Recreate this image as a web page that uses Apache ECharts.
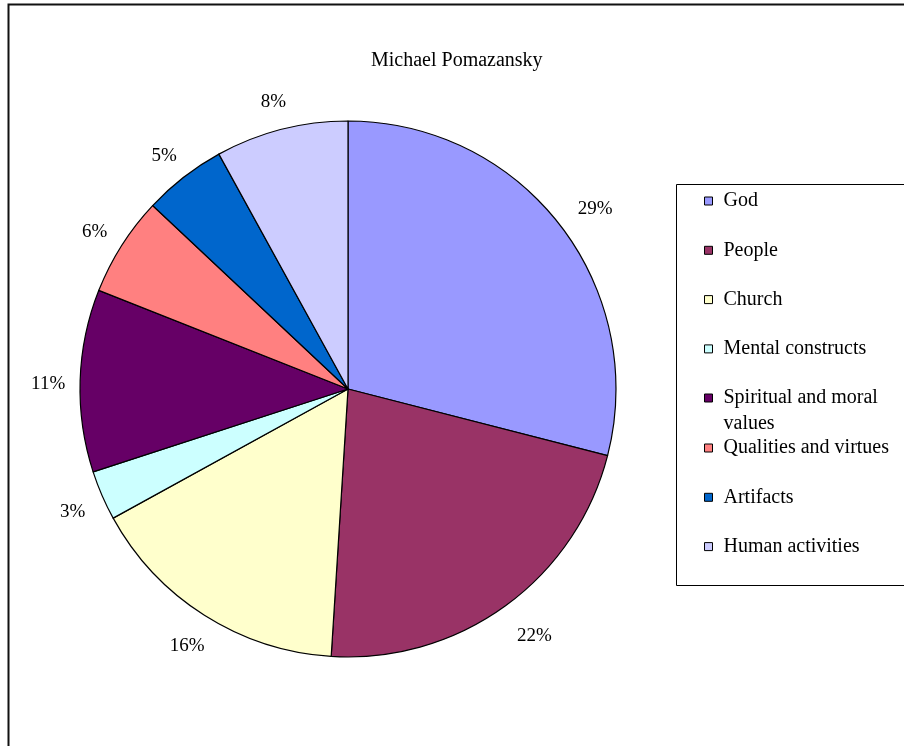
<!DOCTYPE html>
<html>
<head>
<meta charset="utf-8">
<title>Michael Pomazansky</title>
<script src="https://cdn.jsdelivr.net/npm/echarts@6/dist/echarts.min.js"></script>
<style>
  html, body { margin: 0; padding: 0; background: #fff; }
  #chart { width: 904px; height: 746px; }
</style>
</head>
<body>
<div id="chart"></div>
<script>
// Share of each theme (percent)
const categories = [
  'God', 'People', 'Church', 'Mental constructs',
  'Spiritual and moral values', 'Qualities and virtues', 'Artifacts', 'Human activities'
];
const shares = [29, 22, 16, 3, 11, 6, 5, 8];
const colors = ['#9999FF', '#993366', '#FFFFCC', '#CCFFFF', '#660066', '#FF8080', '#0066CC', '#CCCCFF'];

const FONT = "'Liberation Serif', 'Times New Roman', serif";

const pieData = categories.map((name, i) => ({
  name: name,
  value: shares[i],
  itemStyle: { color: colors[i] }
}));

// Legend is split in three stacks so the wrapped entry keeps its marker on the first line
const legendBase = {
  orient: 'vertical',
  left: 704,
  padding: 0,
  itemGap: 27.3,
  itemWidth: 8,
  itemHeight: 8,
  icon: 'rect',
  selectedMode: false,
  itemStyle: { borderColor: '#000', borderWidth: 1 },
  textStyle: { fontFamily: FONT, fontSize: 20, color: '#000', lineHeight: 22, padding: [0, 0, 0, 6] }
};

const legends = [
  Object.assign({}, legendBase, { top: 190, data: categories.slice(0, 4) }),
  Object.assign({}, legendBase, {
    top: 359,
    data: [categories[4]],
    // leading empty line keeps the marker level with the first text line
    formatter: name => '\nSpiritual and moral\nvalues',
    textStyle: Object.assign({}, legendBase.textStyle, { lineHeight: 26 })
  }),
  Object.assign({}, legendBase, { top: 437, data: categories.slice(5) })
];

const chart = echarts.init(document.getElementById('chart'), null, { renderer: 'canvas' });
chart.setOption({
  animation: false,
  backgroundColor: '#ffffff',
  title: {
    text: 'Michael Pomazansky',
    left: 371,
    top: 50,
    padding: 0,
    textStyle: { fontFamily: FONT, fontSize: 20, fontWeight: 'normal', color: '#000', lineHeight: 22 }
  },
  legend: legends,
  graphic: [{
    type: 'rect',
    silent: true,
    shape: { x: 8.5, y: 4.5, width: 1200, height: 1200 },
    style: { fill: 'none', stroke: '#111', lineWidth: 2 }
  }, {
    type: 'rect',
    silent: true,
    shape: { x: 676.5, y: 184.5, width: 400, height: 401 },
    style: { fill: 'none', stroke: '#000', lineWidth: 1 }
  }],
  series: [{
    type: 'pie',
    center: [348, 389],
    radius: 268,
    startAngle: 90,
    clockwise: true,
    avoidLabelOverlap: false,
    data: pieData,
    itemStyle: { borderColor: '#000', borderWidth: 1.2 },
    emphasis: { disabled: true },
    label: {
      show: true,
      position: 'outside',
      formatter: p => p.value + '%',
      fontFamily: FONT,
      fontSize: 19,
      color: '#000'
    },
    labelLine: { show: false, length: 32, length2: 0 },
    // centre each percentage on its anchor point outside the slice
    labelLayout: () => ({ align: 'center', dx: 5, dy: 4 })
  }]
});
</script>
</body>
</html>
